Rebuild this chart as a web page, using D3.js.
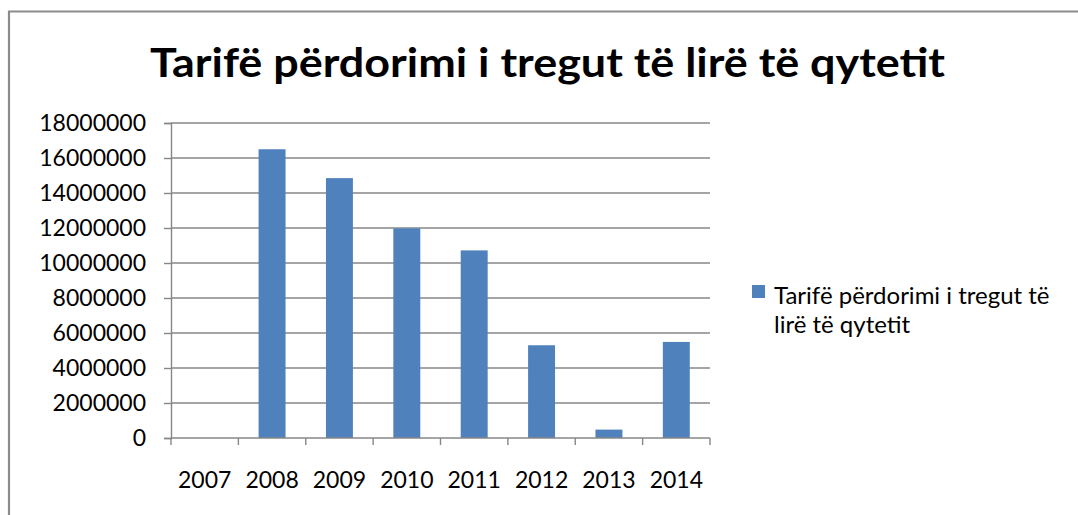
<!DOCTYPE html>
<html>
<head>
<meta charset="utf-8">
<script src="https://cdn.jsdelivr.net/npm/d3@7"></script>
<style>
  body { margin: 0; background: #fff; }
  text { font-family: Lato, "Open Sans", sans-serif; fill: #000; }
</style>
</head>
<body>
<div id="chart"></div>
<script>
var years = ["2007", "2008", "2009", "2010", "2011", "2012", "2013", "2014"];
var values = [0, 16500000, 14850000, 11980000, 10720000, 5300000, 480000, 5490000];
var yTicks = [0, 2000000, 4000000, 6000000, 8000000, 10000000, 12000000, 14000000, 16000000, 18000000];
var seriesName = "Tarifë përdorimi i tregut të lirë të qytetit";
var legendLines = ["Tarifë përdorimi i tregut të", "lirë të qytetit"];

var W = 1078, H = 515;
var plotLeft = 171, plotRight = 710, plotTop = 123, plotBottom = 438;
var gridColor = "#878787";

var svg = d3.select("#chart").append("svg")
    .attr("width", W)
    .attr("height", H);

// chart area frame (only top and left visible in the crop)
svg.append("path")
    .attr("d", "M9," + H + " L9,11.5 L" + W + ",11.5")
    .attr("fill", "none")
    .attr("stroke", "#8c8c8c")
    .attr("stroke-width", 2.2);

var x = d3.scaleBand()
    .domain(years)
    .range([plotLeft, plotRight])
    .paddingInner(0.6)
    .paddingOuter(0.3);

var y = d3.scaleLinear()
    .domain([0, 18000000])
    .range([plotBottom, plotTop]);

// title
svg.append("text")
    .attr("x", (150 + 945) / 2)
    .attr("y", 77)
    .attr("text-anchor", "middle")
    .style("font-weight", "bold")
    .style("font-size", "41px")
    .attr("textLength", 795)
    .attr("lengthAdjust", "spacingAndGlyphs")
    .text(seriesName);

// gridlines
svg.append("g")
    .selectAll("line")
    .data(yTicks.slice(1))
    .enter().append("line")
    .attr("x1", plotLeft)
    .attr("x2", plotRight)
    .attr("y1", function(d) { return y(d); })
    .attr("y2", function(d) { return y(d); })
    .attr("stroke", gridColor)
    .attr("stroke-width", 1.4);

// y axis
var yAxis = d3.axisLeft(y).tickValues(yTicks).tickSize(7).tickPadding(18)
    .tickFormat(function(d) { return d; });
var gy = svg.append("g")
    .attr("transform", "translate(" + plotLeft + ",0)")
    .call(yAxis);
gy.select(".domain").attr("stroke", gridColor).attr("stroke-width", 1.4);
gy.selectAll(".tick line").attr("stroke", gridColor).attr("stroke-width", 1.4);
gy.selectAll("text")
    .style("font-family", "Lato, sans-serif")
    .style("font-size", "23px")
    .attr("fill", "#000");

// bars
svg.append("g")
    .selectAll("rect")
    .data(values)
    .enter().append("rect")
    .attr("x", function(d, i) { return x(years[i]); })
    .attr("width", x.bandwidth())
    .attr("y", function(d) { return y(d); })
    .attr("height", function(d) { return y(0) - y(d); })
    .attr("fill", "#4f81bd");

// x axis: line + ticks at category boundaries
var gx = svg.append("g");
gx.append("line")
    .attr("x1", plotLeft).attr("x2", plotRight)
    .attr("y1", plotBottom).attr("y2", plotBottom)
    .attr("stroke", gridColor).attr("stroke-width", 1.4);
var step = x.step();
gx.selectAll(".xt")
    .data(d3.range(years.length + 1))
    .enter().append("line")
    .attr("class", "xt")
    .attr("x1", function(i) { return plotLeft + i * step; })
    .attr("x2", function(i) { return plotLeft + i * step; })
    .attr("y1", plotBottom)
    .attr("y2", plotBottom + 7)
    .attr("stroke", gridColor).attr("stroke-width", 1.4);
gx.selectAll(".xl")
    .data(years)
    .enter().append("text")
    .attr("class", "xl")
    .attr("x", function(d) { return x(d) + x.bandwidth() / 2; })
    .attr("y", 488)
    .attr("text-anchor", "middle")
    .style("font-size", "23px")
    .text(function(d) { return d; });

// legend
var legend = svg.append("g").attr("class", "legend");
legend.append("rect")
    .attr("x", 752)
    .attr("y", 285)
    .attr("width", 13)
    .attr("height", 13)
    .attr("fill", "#4f81bd");
legend.selectAll("text")
    .data(legendLines)
    .enter().append("text")
    .attr("x", 774)
    .attr("y", function(d, i) { return 304 + i * 29; })
    .style("font-size", "24px")
    .text(function(d) { return d; });
</script>
</body>
</html>
